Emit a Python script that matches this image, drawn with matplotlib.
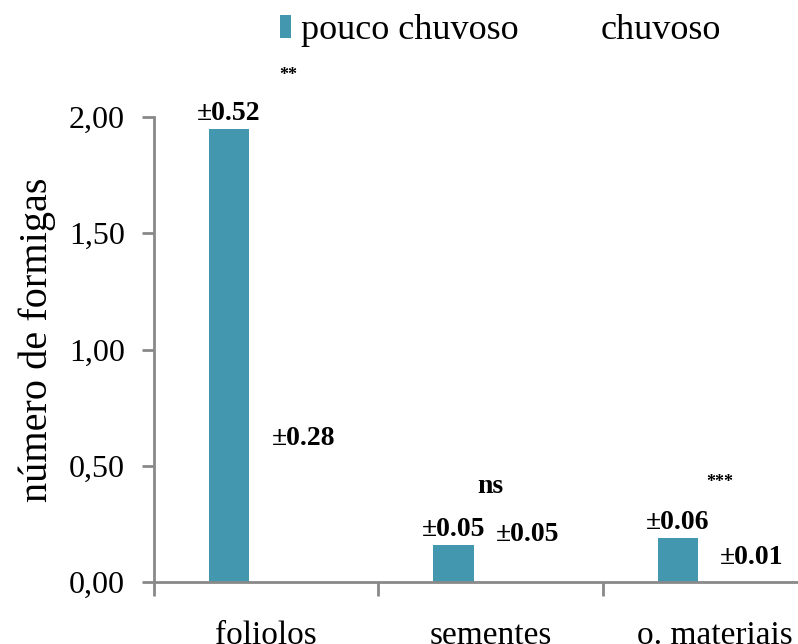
import numpy as np
from matplotlib import pyplot as plt
from matplotlib.patches import Patch
from matplotlib.ticker import FixedLocator, FuncFormatter

categories = ["foliolos", "sementes", "o. materiais"]
pouco_chuvoso = [1.95, 0.16, 0.19]
chuvoso = [0.55, 0.14, 0.04]
pouco_err_labels = ["±0.52", "±0.05", "±0.06"]
chuvoso_err_labels = ["±0.28", "±0.05", "±0.01"]
significance = ["**", "ns", "***"]
sig_heights = [2.18, 0.41, 0.43]

plt.rcParams['font.family'] = ['Liberation Serif', 'DejaVu Serif']

fig = plt.figure(figsize=(7.98, 6.44), dpi=100)
ax = fig.add_axes([154 / 798, 62 / 644, 673 / 798, 465 / 644])

x = np.arange(len(categories))
w = 0.18
off = 0.165
teal = "#4398b0"
b1 = ax.bar(x - off, pouco_chuvoso, w, color=teal, label="pouco chuvoso")
b2 = ax.bar(x + off, chuvoso, w, color="white", label="chuvoso")

ax.bar_label(b1, labels=pouco_err_labels, padding=2, fontsize=20, fontweight="bold")
ax.bar_label(b2, labels=chuvoso_err_labels, padding=2, fontsize=20, fontweight="bold")

for i, s in enumerate(significance):
    dx = 0.1 if i == 0 else 0.02 * (i - 1)
    ax.text(x[i] + dx, sig_heights[i], s, ha="center", va="center",
            fontsize=20 if s == "ns" else 13, fontweight="bold", clip_on=False)

ax.set_xlim(-0.5, 2.5)
ax.set_ylim(0, 2)
ax.set_yticks([0, 0.5, 1.0, 1.5, 2.0])
ax.yaxis.set_major_formatter(FuncFormatter(lambda v, p: f"{v:.2f}".replace(".", ",")))
ax.tick_params(axis="y", labelsize=23, length=9, width=2, color="#898989", pad=12)

ax.set_xticks(x)
ax.set_xticklabels(categories, fontsize=24)
ax.tick_params(axis="x", which="major", length=0, pad=28)
ax.xaxis.set_minor_locator(FixedLocator([-0.5, 0.5, 1.5]))
ax.tick_params(axis="x", which="minor", length=10, width=2, color="#898989")

for side in ["top", "right"]:
    ax.spines[side].set_visible(False)
for side in ["left", "bottom"]:
    ax.spines[side].set_color("#898989")
    ax.spines[side].set_linewidth(2)

ax.set_ylabel("número de formigas", fontsize=29)
ax.yaxis.set_label_coords(-0.145, 0.52)

handles = [Patch(facecolor=teal, label="pouco chuvoso"),
           Patch(facecolor="white", label="chuvoso")]
fig.legend(handles=handles, loc="upper left", bbox_to_anchor=(251 / 798, 1 + 15 / 644),
           ncol=2, frameon=False, fontsize=26, handlelength=0.3, handleheight=0.6,
           handletextpad=0.28, columnspacing=1.7, borderpad=0.3)

fig.savefig("out.png", dpi=100)
